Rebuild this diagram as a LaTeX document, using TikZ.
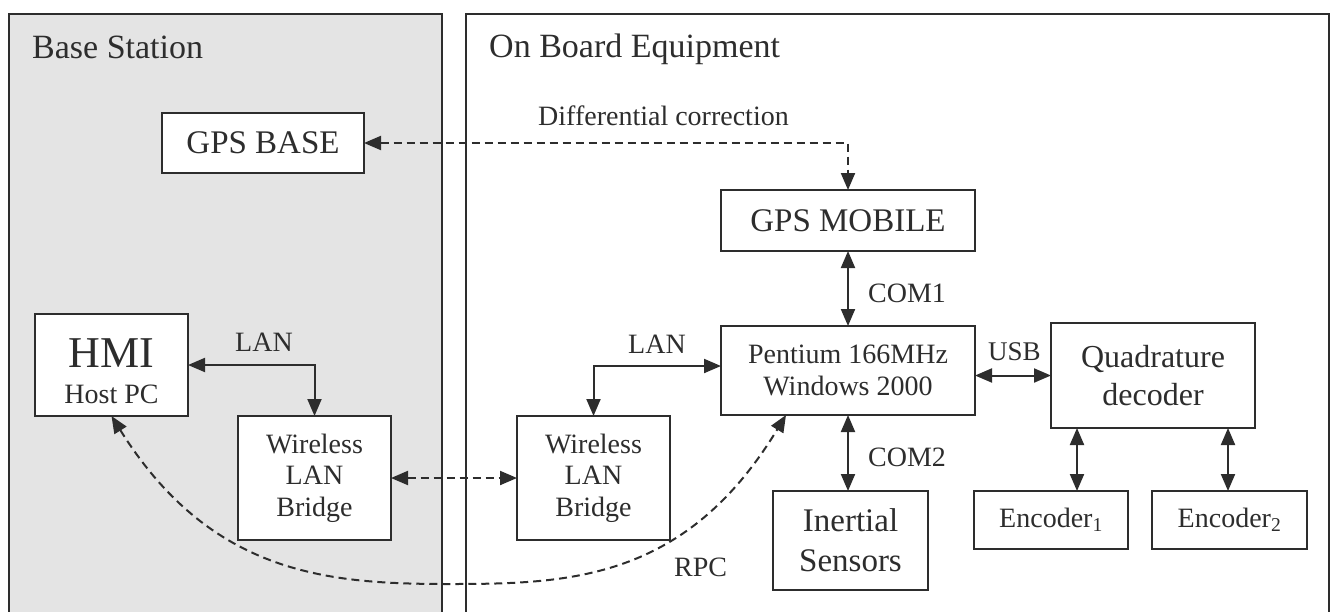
\documentclass[tikz,border=0pt]{standalone}
\usepackage{fontspec}
\setmainfont{Liberation Serif}
\usetikzlibrary{arrows.meta}
\definecolor{ink}{RGB}{45,45,45}
\definecolor{panelgray}{RGB}{228,228,228}
\begin{document}
\begin{tikzpicture}[x=1pt,y=-1pt,
  panel/.style={draw=ink, line width=2pt},
  box/.style={draw=ink, line width=2pt, fill=white, inner sep=0pt, outer sep=0pt, align=center, text=ink},
  lbl/.style={text=ink, inner sep=0pt, anchor=base west},
  conn/.style={draw=ink, line width=2pt, {Triangle[length=17pt,width=14pt]}-{Triangle[length=17pt,width=14pt]}},
  dconn/.style={conn, dash pattern=on 8pt off 5pt},
  fs28/.style={font=\fontsize{28}{31.5}\selectfont},
  fs33/.style={font=\fontsize{33}{40}\selectfont}
]
\useasboundingbox (0,0) rectangle (1333,611);
\clip (0,0) rectangle (1333,611);

% panels
\fill[panelgray] (9,14) rectangle (442,640);
\draw[panel] (9,14) rectangle (442,640);
\draw[panel] (466,14) rectangle (1329,640);
\node[lbl, font=\fontsize{34}{40}\selectfont] (bslbl) at (32,58) {Base Station};
\node[lbl, font=\fontsize{34}{40}\selectfont] (oblbl) at (489,57) {On Board Equipment};

% boxes
\node[box, fs33, minimum width=202pt, minimum height=60pt] (gpsbase) at (263,143) {GPS BASE};
\node[box, fs33, minimum width=254pt, minimum height=61pt] (gpsmob) at (848,220.5) {GPS MOBILE};
\node[box, font=\fontsize{28}{32}\selectfont, minimum width=254pt, minimum height=89pt] (pent) at (848,370.5) {Pentium 166MHz\\Windows 2000};
\node[box, font=\fontsize{28}{36}\selectfont, minimum width=153pt, minimum height=102pt] (hmi) at (111.5,365) {{\fontsize{44}{36}\selectfont\rule{0pt}{42pt}HMI}\\Host PC};
\node[box, fs28, minimum width=153pt, minimum height=124pt] (wlba) at (314.5,478) {Wireless\\LAN\\Bridge};
\node[box, fs28, minimum width=153pt, minimum height=124pt] (wlbb) at (593.5,478) {Wireless\\LAN\\Bridge};
\node[box, fs33, minimum width=155pt, minimum height=99pt] (inert) at (850.5,540.5) {Inertial\\Sensors};
\node[box, font=\fontsize{32}{38}\selectfont, minimum width=204pt, minimum height=105pt] (quad) at (1153,375.5) {Quadrature\\decoder};
\node[box, fs28, minimum width=154pt, minimum height=58pt] (enca) at (1051,520) {Encoder\textsubscript{1}};
\node[box, fs28, minimum width=155pt, minimum height=58pt] (encb) at (1229.5,520) {Encoder\textsubscript{2}};

% connectors
\draw[dconn] (gpsbase.east) -| (gpsmob.north);
\draw[conn] (gpsmob.south) -- (pent.north);
\draw[conn] (hmi.east) -| (wlba.north);
\draw[conn] ([yshift=4.5pt]pent.west) -| (wlbb.north);
\draw[dconn] (wlba.east) -- (wlbb.west);
\draw[conn] (quad.west -| pent.east) -- (quad.west);
\draw[conn] (pent.south) -- (pent.south |- inert.north);
\coordinate (qa) at ([xshift=26pt]quad.south west);
\coordinate (qb) at ([xshift=-27pt]quad.south east);
\draw[conn] (qa) -- (qa |- enca.north);
\draw[conn] (qb) -- (qb |- encb.north);
\coordinate (rpcend) at ([xshift=65pt]pent.south west);
\coordinate (rpcmid) at (450,584);
\draw[dconn] (hmi.south) .. controls +(100,160) and +(-120,0) .. (rpcmid)
  .. controls +(120,0) and +(-100,165) .. (rpcend);

% labels
\node[lbl, fs28] (ldiff) at (538,125) {Differential correction};
\node[lbl, fs28] (lcom1) at (868,302) {COM1};
\node[lbl, fs28] (llana) at (235,351) {LAN};
\node[lbl, fs28] (llanb) at (628,353) {LAN};
\node[lbl, font=\fontsize{27}{30}\selectfont] (lusb) at (988,360) {USB};
\node[lbl, fs28] (lcom2) at (868,466) {COM2};
\node[lbl, fs28] (lrpc) at (674,576) {RPC};
\end{tikzpicture}
\end{document}
